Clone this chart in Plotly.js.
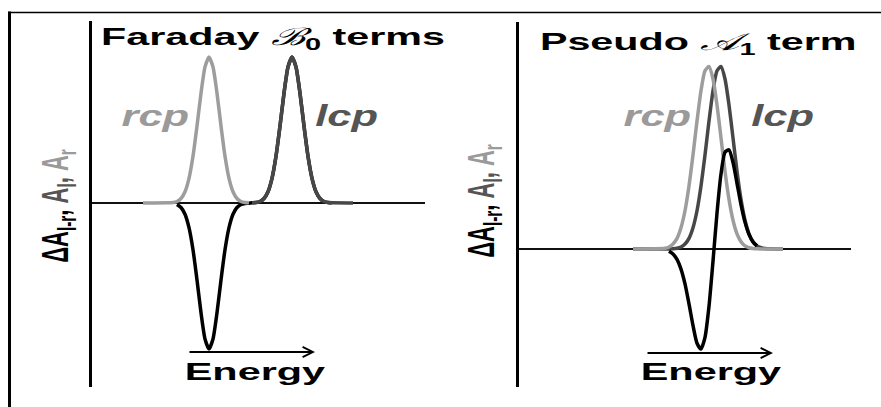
<!DOCTYPE html>
<html>
<head>
<meta charset="utf-8">
<script src="https://cdn.plot.ly/plotly-3.0.1.min.js"></script>
<style>
  html, body { margin: 0; padding: 0; background: #ffffff; }
  #chart { width: 881px; height: 407px; }
</style>
</head>
<body>
<div id="chart"></div>
<script>
// ---------- Data (energy in arbitrary units along each panel, absorbance in arbitrary units) ----------
// Left panel: Faraday B0 terms
const leftRcpX = [51, 77, 81, 85, 89, 93, 97, 101, 105, 109, 113, 117, 121, 125, 129, 133, 137, 141, 145, 149, 153, 157];
const leftRcpY = [0, 0.001, 0.003, 0.010, 0.031, 0.077, 0.169, 0.320, 0.527, 0.752, 0.931, 1, 0.931, 0.752, 0.527, 0.320, 0.169, 0.077, 0.031, 0.010, 0.003, 0.001];
const leftLcpX = [160, 164, 168, 172, 176, 180, 184, 188, 192, 196, 200, 204, 208, 212, 216, 220, 224, 228, 232, 236, 240, 261];
const leftLcpY = [0.001, 0.003, 0.010, 0.031, 0.077, 0.169, 0.320, 0.527, 0.752, 0.931, 1, 0.931, 0.752, 0.527, 0.320, 0.169, 0.077, 0.031, 0.010, 0.003, 0.001, 0];
const leftDeltaX = [85, 89, 93, 97, 101, 105, 109, 113, 117, 121, 125, 129, 133, 137, 141, 145, 149, 153, 157,
                    160, 164, 168, 172, 176, 180, 184, 188, 192, 196, 200, 204, 208, 212, 216, 220, 224, 228, 232, 236, 240];
const leftDeltaY = [-0.010, -0.031, -0.077, -0.169, -0.320, -0.527, -0.752, -0.931, -1, -0.931, -0.752, -0.527, -0.320, -0.169, -0.077, -0.031, -0.010, -0.003, -0.001,
                    0.001, 0.003, 0.010, 0.031, 0.077, 0.169, 0.320, 0.527, 0.752, 0.931, 1, 0.931, 0.752, 0.527, 0.320, 0.169, 0.077, 0.031, 0.010, 0.003, 0.001];

// Right panel: Pseudo A1 term
const rightX = [114, 146, 150, 154, 158, 162, 166, 170, 174, 178, 182, 186, 190, 194, 198, 202, 206, 210, 214, 218, 222, 226, 230, 234, 238, 242, 246, 250, 264];
const rightRcpY = [0, 0.004, 0.011, 0.027, 0.058, 0.116, 0.209, 0.344, 0.514, 0.699, 0.865, 0.974, 0.997, 0.929, 0.787, 0.607, 0.425, 0.271, 0.157, 0.083, 0.040, 0.017, 0.007, 0.003, 0.001, 0, 0, 0, 0];
const rightLcpY = [0, 0, 0, 0.001, 0.004, 0.011, 0.027, 0.058, 0.116, 0.209, 0.344, 0.514, 0.699, 0.865, 0.974, 0.997, 0.929, 0.787, 0.607, 0.425, 0.271, 0.157, 0.083, 0.040, 0.017, 0.007, 0.003, 0.001, 0];
const rightDeltaX = [150, 154, 158, 162, 166, 170, 174, 178, 182, 186, 190, 194, 198, 202, 206, 210, 214, 218, 222, 226, 230, 234, 238];
const rightDeltaY = [-0.012, -0.027, -0.057, -0.110, -0.191, -0.300, -0.418, -0.515, -0.547, -0.483, -0.313, -0.067, 0.196, 0.410, 0.529, 0.542, 0.473, 0.359, 0.243, 0.147, 0.080, 0.039, 0.017];

// Text labels
const leftTitle = 'Faraday <span style="font-family:\'DejaVu Serif\';font-style:italic;font-weight:normal">ℬ</span><sub>0</sub> terms';
const rightTitle = 'Pseudo <span style="font-family:\'DejaVu Serif\';font-style:italic;font-weight:normal">𝒜</span><sub>1</sub> term';
const yLabel = '<span style="color:#000000">ΔA<sub>l-r</sub>,</span> <span style="color:#555555">A<sub>l</sub>,</span> <span style="color:#9a9a9a">A<sub>r</sub></span>';
const rcpLabel = 'rcp';
const lcpLabel = 'lcp';
const energyLabel = 'Energy';

// ---------- Styles ----------
const W = 881, H = 407;
const px = v => v / W;
const py = v => 1 - v / H;
const FONT = 'Liberation Sans, Arial, Helvetica, sans-serif';
const RCP_COLOR = '#9d9d9d';
const LCP_COLOR = '#474747';
const DA_COLOR = '#000000';

function line(x, y, color, width, xa, ya) {
  return { x: x, y: y, type: 'scatter', mode: 'lines', xaxis: xa, yaxis: ya,
           line: { color: color, width: width, shape: 'spline', smoothing: 0.6 },
           hoverinfo: 'skip', showlegend: false };
}

const data = [
  line(leftDeltaX, leftDeltaY, DA_COLOR, 3.5, 'x', 'y'),
  line(leftLcpX, leftLcpY, LCP_COLOR, 3.5, 'x', 'y'),
  line(leftRcpX, leftRcpY, RCP_COLOR, 3.5, 'x', 'y'),
  line(rightX, rightLcpY, LCP_COLOR, 3.5, 'x2', 'y2'),
  line(rightX, rightRcpY, RCP_COLOR, 3.5, 'x2', 'y2'),
  line(rightDeltaX, rightDeltaY, DA_COLOR, 3.5, 'x2', 'y2')
];

const hiddenX = { showline: false, showgrid: false, zeroline: false, showticklabels: false, ticks: '', fixedrange: true };
function yAx(domain, range, anchor) {
  return { domain: domain, range: range, anchor: anchor, showline: true, linecolor: '#000', linewidth: 3,
           showgrid: false, zeroline: true, zerolinecolor: '#111', zerolinewidth: 2,
           showticklabels: false, ticks: '', fixedrange: true };
}

function ann(x, y, text, size, color, opts) {
  return Object.assign({ xref: 'paper', yref: 'paper', x: px(x), y: py(y), text: text, showarrow: false,
           xanchor: 'center', yanchor: 'middle',
           font: { family: FONT, size: size, color: color, weight: 'bold' } }, opts || {});
}
function arrow(xHead, y, len) {
  return { xref: 'paper', yref: 'paper', x: px(xHead), y: py(y), ax: -len, ay: 0, text: '',
           showarrow: true, arrowhead: 5, arrowsize: 1, arrowwidth: 2, arrowcolor: '#000' };
}
const italicFont = c => ({ family: FONT, size: 30, color: c, weight: 'bold', style: 'italic' });

const annotations = [
  ann(273, 39, leftTitle, 24, '#000'),
  ann(698, 43, rightTitle, 24, '#000'),
  ann(155, 115, rcpLabel, 30, '#9a9a9a', { font: italicFont('#9a9a9a') }),
  ann(346, 115, lcpLabel, 30, '#555555', { font: italicFont('#555555') }),
  ann(657, 115, rcpLabel, 30, '#9a9a9a', { font: italicFont('#9a9a9a') }),
  ann(782, 115, lcpLabel, 30, '#555555', { font: italicFont('#555555') }),
  ann(255, 372, energyLabel, 23, '#000'),
  ann(711, 372, energyLabel, 23, '#000'),
  arrow(315, 352, 127),
  arrow(773, 353, 127),
  ann(58, 206, yLabel, 22, '#000', { textangle: -90 }),
  ann(484, 201, yLabel, 22, '#000', { textangle: -90 })
];
// horizontal stretch applied to each annotation's text (the source figure is stretched horizontally)
const stretch = [1.72, 1.72, 1.45, 1.45, 1.45, 1.45, 1.8, 1.8, 1, 1, 1.65, 1.65];

const layout = {
  width: W, height: H, autosize: false,
  margin: { l: 0, r: 0, t: 0, b: 0, pad: 0 },
  paper_bgcolor: '#ffffff', plot_bgcolor: 'rgba(0,0,0,0)',
  showlegend: false,
  xaxis: Object.assign({ domain: [px(92), px(425)], range: [0, 333], anchor: 'y' }, hiddenX),
  yaxis: yAx([1 - 387 / H, 1 - 21 / H], [-1.2603, 1.2466], 'x'),
  xaxis2: Object.assign({ domain: [px(519), px(851)], range: [0, 332], anchor: 'y2' }, hiddenX),
  yaxis2: yAx([1 - 387 / H, 1 - 22 / H], [-0.7541, 1.2404], 'x2'),
  annotations: annotations,
  shapes: [
    { type: 'line', xref: 'paper', yref: 'paper', x0: px(9.5), x1: px(9.5), y0: 0, y1: py(11.5), line: { color: '#000', width: 3 } },
    { type: 'line', xref: 'paper', yref: 'paper', x0: px(8), x1: 1, y0: py(12.5), y1: py(12.5), line: { color: '#000', width: 1.5 } }
  ]
};

Plotly.newPlot('chart', data, layout, { staticPlot: true, displayModeBar: false }).then(function (gd) {
  gd.querySelectorAll('g.annotation').forEach(function (g) {
    var i = +g.getAttribute('data-index');
    var k = stretch[i];
    if (!k || k === 1) return;
    var t = g.querySelector('text.annotation-text');
    if (!t) return;
    var b = t.getBBox();
    var cx = b.x + b.width / 2, cy = b.y + b.height / 2;
    if (annotations[i].textangle) {
      t.setAttribute('transform', 'translate(0,' + cy + ') scale(1,' + k + ') translate(0,' + (-cy) + ')');
    } else {
      t.setAttribute('transform', 'translate(' + cx + ',0) scale(' + k + ',1) translate(' + (-cx) + ',0)');
    }
  });
});
</script>
</body>
</html>
